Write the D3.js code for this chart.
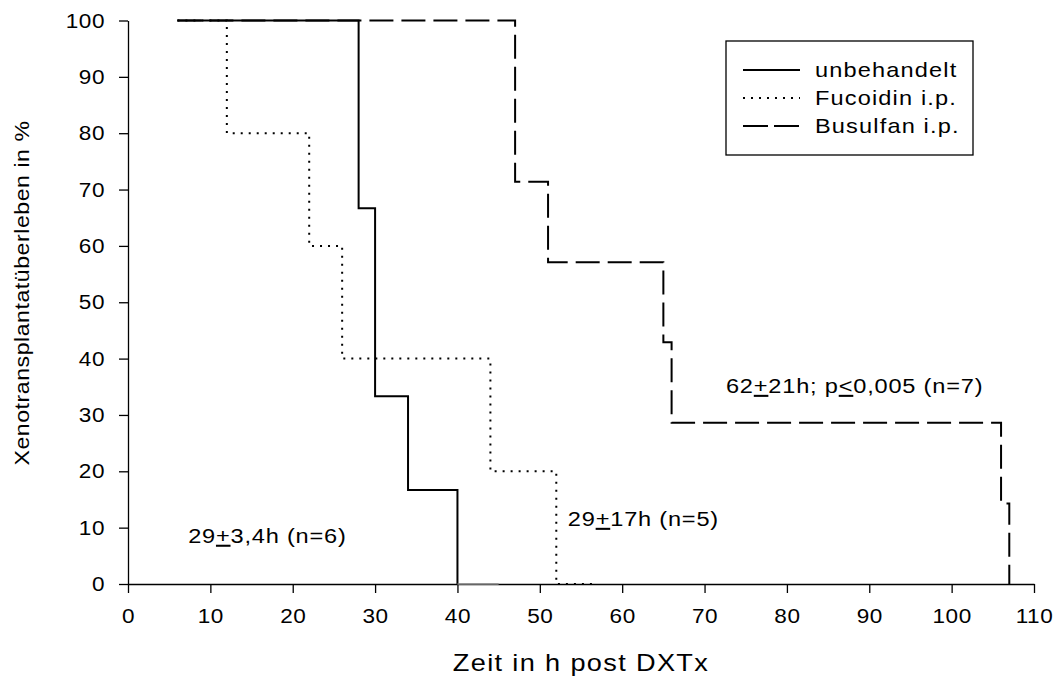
<!DOCTYPE html>
<html>
<head>
<meta charset="utf-8">
<script src="https://cdn.jsdelivr.net/npm/d3@7"></script>
<style>
  body { margin: 0; background: #fff; }
  text { font-family: "Liberation Sans", Arial, sans-serif; fill: #000; }
</style>
</head>
<body>
<div id="chart"></div>
<script>
// Kaplan-Meier steps: [hours, survival %]
var unbehandelt = [[6, 100], [28, 100], [28, 66.7], [30, 66.7], [30, 33.3], [34, 33.3], [34, 16.7], [40, 16.7], [40, 0]];
var unbehandeltTail = [[40, 0], [45, 0]];
var fucoidin = [[6, 100], [12, 100], [12, 80], [22, 80], [22, 60], [26, 60], [26, 40], [44, 40], [44, 20], [52, 20], [52, 0], [57, 0]];
var busulfan = [[6, 100], [47, 100], [47, 71.4], [51, 71.4], [51, 57.1], [65, 57.1], [65, 42.9], [66, 42.9], [66, 28.6], [106, 28.6], [106, 14.3], [107, 14.3], [107, 0]];

var xTicks = d3.range(0, 111, 10);
var yTicks = d3.range(0, 101, 10);
var legendLabels = ["unbehandelt", "Fucoidin i.p.", "Busulfan i.p."];

var width = 1058,
    height = 677;

var svg = d3.select("#chart").append("svg")
    .attr("width", width)
    .attr("height", height);

var x = d3.scaleLinear().domain([0, 110]).range([128, 1034]);
var y = d3.scaleLinear().domain([0, 100]).range([584, 20.5]);

//the original font is a wide sans, so stretch text a little horizontally
function wideText(parent, tx, ty, size, sx, ls, extra) {
    var g = parent.append("g")
        .attr("transform", "translate(" + tx + "," + ty + ")" + (extra || "") + " scale(" + sx + ",1)");
    return g.append("text")
        .attr("font-size", size)
        .attr("letter-spacing", ls);
}

//axes
var xAxis = svg.append("g")
    .attr("transform", "translate(0,584)")
    .call(d3.axisBottom(x).tickValues(xTicks).tickSize(9).tickSizeOuter(0).tickPadding(15));
var yAxis = svg.append("g")
    .attr("transform", "translate(128,0)")
    .call(d3.axisLeft(y).tickValues(yTicks).tickSize(9).tickSizeOuter(0).tickPadding(14));

[xAxis, yAxis].forEach(function(a) {
    a.selectAll("path, line").attr("stroke", "#000").attr("stroke-width", 1.3);
    a.selectAll("text")
        .attr("font-size", 20.5)
        .attr("letter-spacing", 0.5)
        .attr("font-family", "Liberation Sans, Arial, sans-serif")
        .attr("transform", "scale(1.1,1)");
});
yAxis.selectAll("text").attr("x", -23 / 1.1);

wideText(svg, 581, 671, 23, 1.18, 1.15)
    .attr("text-anchor", "middle")
    .text("Zeit in h post DXTx");

wideText(svg, 29, 293, 21, 1.1, 0.5, " rotate(-90)")
    .attr("text-anchor", "middle")
    .text("Xenotransplantatüberleben in %");

//curves
var line = d3.line().x(function(d) { return x(d[0]); }).y(function(d) { return y(d[1]); });

var styles = [
    {data: busulfan, dash: "24,8"},
    {data: fucoidin, dash: "2,6"},
    {data: unbehandelt, dash: null}
];
styles.forEach(function(s) {
    svg.append("path")
        .datum(s.data)
        .attr("fill", "none")
        .attr("stroke", "#000")
        .attr("stroke-width", 2)
        .attr("stroke-dasharray", s.dash)
        .attr("d", line);
});
svg.append("path")
    .datum(unbehandeltTail)
    .attr("fill", "none")
    .attr("stroke", "#888")
    .attr("stroke-width", 1.5)
    .attr("d", line);

//legend
var legend = svg.append("g");
legend.append("rect")
    .attr("x", 726).attr("y", 41)
    .attr("width", 247).attr("height", 114)
    .attr("fill", "#fff")
    .attr("stroke", "#000")
    .attr("stroke-width", 1.3);
var legendDash = [null, "2,6", "25,6"];
legendLabels.forEach(function(l, i) {
    var ly = 70 + i * 28;
    legend.append("line")
        .attr("x1", 743).attr("x2", 800)
        .attr("y1", ly).attr("y2", ly)
        .attr("stroke", "#000")
        .attr("stroke-width", 2)
        .attr("stroke-dasharray", legendDash[i]);
    wideText(legend, 815, ly + 7, 20.5, 1.15, 1.0).text(l);
});

//annotations with underlined + / <
var notes = [
    {x: 7.3, y: 7.3, parts: ["29", "+", "3,4h (n=6)"]},
    {x: 53.4, y: 10.3, parts: ["29", "+", "17h (n=5)"]},
    {x: 72.6, y: 33.9, parts: ["62", "+", "21h; p", "<", "0,005 (n=7)"]}
];
notes.forEach(function(n) {
    var t = wideText(svg, x(n.x), y(n.y), 20.5, 1.15, 0.7);
    n.parts.forEach(function(p, i) {
        t.append("tspan")
            .attr("text-decoration", i % 2 === 1 ? "underline" : null)
            .text(p);
    });
});
</script>
</body>
</html>
